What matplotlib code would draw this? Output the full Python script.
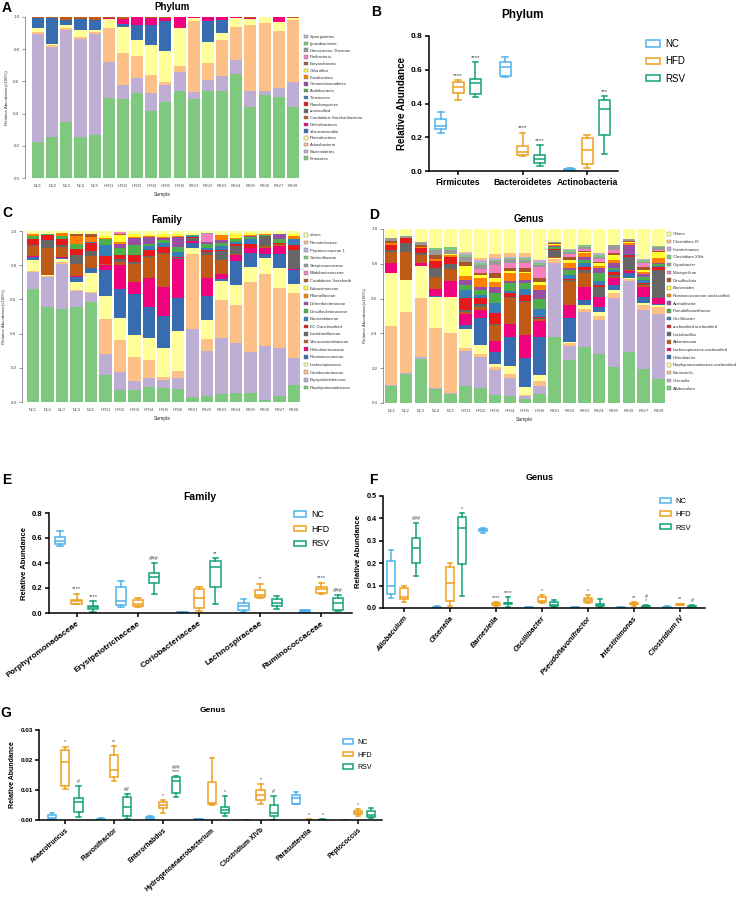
import matplotlib
matplotlib.use('Agg')
import matplotlib.pyplot as plt
from matplotlib.patches import Patch
import numpy as np

plt.rcParams['font.family'] = ['Liberation Sans', 'DejaVu Sans']

samples = ['NC1', 'NC2', 'NC3', 'NC4', 'NC5', 'HFD1', 'HFD2', 'HFD3', 'HFD4', 'HFD5', 'HFD6',
           'RSV1', 'RSV2', 'RSV3', 'RSV4', 'RSV5', 'RSV6', 'RSV7', 'RSV8']
absent = [0.0] * 19

# ---- A: phylum composition (bottom -> top)
phy_names = ['Firmicutes', 'Bacteroidetes', 'Actinobacteria', 'Proteobacteria', 'Verrucomicrobia',
             'Deferribacteres', 'Candidatus Saccharibacteria', 'unclassified', 'Planctomycetes',
             'Tenericutes', 'Acidobacteria', 'Gemmatimonadetes', 'Fusobacteria', 'Chloroflexi',
             'Euryarchaeota', 'Poribacteria', 'Deinococcus-Thermus', 'Ignavibacteriae', 'Synergistetes']
phy_firm = [0.226, 0.253, 0.348, 0.253, 0.265, 0.498, 0.492, 0.527, 0.416, 0.475, 0.541,
            0.490, 0.543, 0.539, 0.646, 0.442, 0.516, 0.506, 0.442]
phy_bact = [0.671, 0.562, 0.570, 0.613, 0.632, 0.224, 0.086, 0.094, 0.115, 0.103, 0.115,
            0.045, 0.066, 0.095, 0.084, 0.101, 0.027, 0.056, 0.153]
phy_actino = [0.008, 0.008, 0.012, 0.011, 0.008, 0.210, 0.200, 0.136, 0.109, 0.019, 0.039,
              0.440, 0.103, 0.222, 0.208, 0.410, 0.420, 0.350, 0.384]
phy_proteo = [0.029, 0.012, 0.021, 0.041, 0.013, 0.058, 0.160, 0.103, 0.189, 0.189, 0.237,
              0.021, 0.130, 0.047, 0.056, 0.033, 0.037, 0.057, 0.015]
phy_verruco = [0.060, 0.161, 0.033, 0.068, 0.066, 0.0, 0.021, 0.089, 0.124, 0.187, 0.0,
               0.0, 0.131, 0.081, 0.0, 0.0, 0.0, 0.0, 0.0]
phy_deferri = [0.0, 0.0, 0.0, 0.0, 0.0, 0.004, 0.031, 0.051, 0.043, 0.021, 0.068,
               0.004, 0.027, 0.016, 0.006, 0.006, 0.0, 0.031, 0.0]
phy_saccha = [0.006, 0.004, 0.016, 0.014, 0.016, 0.006, 0.010, 0.0, 0.004, 0.006, 0.0,
              0.0, 0.0, 0.0, 0.0, 0.008, 0.0, 0.0, 0.006]

# ---- C: family composition
fam_names = ['Porphyromonadaceae', 'Erysipelotrichaceae', 'Coriobacteriaceae', 'Lachnospiraceae',
             'Ruminococcaceae', 'Helicobacteraceae', 'Verrucomicrobiaceae', 'Lactobacillaceae',
             'F.C.Gunclassified', 'Bacteroidaceae', 'Desulfovibrionaceae', 'Deferribacteraceae',
             'Rikenellaceae', 'Eubacteriaceae', 'Candidatus Saccharib', 'Bifidobacteriaceae',
             'Streptococcaceae', 'Sutterellaceae', 'Peptococcaceae 1', 'Prevotellaceae', 'others']
fam_porph = [0.658, 0.556, 0.543, 0.556, 0.586, 0.158, 0.070, 0.070, 0.089, 0.080, 0.074,
             0.027, 0.035, 0.047, 0.054, 0.054, 0.012, 0.037, 0.099]
fam_erys = [0.101, 0.176, 0.262, 0.092, 0.052, 0.120, 0.103, 0.055, 0.049, 0.048, 0.064,
            0.399, 0.263, 0.330, 0.292, 0.236, 0.315, 0.276, 0.156]
fam_corio = [0.008, 0.005, 0.014, 0.006, 0.006, 0.206, 0.189, 0.136, 0.107, 0.020, 0.043,
             0.442, 0.068, 0.218, 0.220, 0.412, 0.424, 0.354, 0.385]
fam_lach = [0.066, 0.004, 0.019, 0.048, 0.113, 0.137, 0.132, 0.128, 0.127, 0.165, 0.233,
            0.035, 0.113, 0.113, 0.121, 0.088, 0.091, 0.117, 0.049]
fam_rum = [0.015, 0.004, 0.004, 0.030, 0.027, 0.153, 0.169, 0.245, 0.184, 0.189, 0.197,
           0.027, 0.142, 0.014, 0.136, 0.082, 0.026, 0.084, 0.081]
fam_heli = [0.006, 0.0, 0.006, 0.007, 0.0, 0.030, 0.137, 0.068, 0.170, 0.171, 0.227,
            0.010, 0.105, 0.029, 0.035, 0.029, 0.033, 0.043, 0.010]
fam_verr = [0.058, 0.156, 0.059, 0.070, 0.070, 0.005, 0.019, 0.107, 0.122, 0.195, 0.0,
            0.0, 0.136, 0.078, 0.010, 0.0, 0.010, 0.015, 0.0]
fam_lacto = [0.008, 0.048, 0.010, 0.049, 0.029, 0.0, 0.016, 0.010, 0.006, 0.006, 0.004,
             0.019, 0.015, 0.052, 0.044, 0.0, 0.058, 0.0, 0.111]
fam_fcg = [0.031, 0.026, 0.038, 0.035, 0.047, 0.045, 0.023, 0.043, 0.033, 0.033, 0.006,
           0.006, 0.010, 0.010, 0.014, 0.025, 0.0, 0.006, 0.029]
fam_bactd = [0.0, 0.0, 0.0, 0.0, 0.006, 0.066, 0.0, 0.0, 0.025, 0.023, 0.029,
             0.006, 0.014, 0.019, 0.010, 0.029, 0.0, 0.0, 0.031]
fam_desulf = [0.020, 0.009, 0.014, 0.033, 0.0, 0.031, 0.045, 0.054, 0.010, 0.016, 0.030,
              0.008, 0.025, 0.020, 0.015, 0.012, 0.006, 0.023, 0.0]
fam_defer = [0.0, 0.0, 0.004, 0.0, 0.0, 0.0, 0.023, 0.045, 0.043, 0.013, 0.058,
             0.0, 0.010, 0.016, 0.0, 0.004, 0.0, 0.029, 0.0]
fam_rik = [0.013, 0.0, 0.015, 0.045, 0.029, 0.010, 0.010, 0.006, 0.006, 0.006, 0.006,
           0.0, 0.0, 0.029, 0.010, 0.008, 0.008, 0.0, 0.019]
fam_eub = [0.0, 0.0, 0.0, 0.0, 0.0, 0.010, 0.039, 0.014, 0.006, 0.016, 0.010,
           0.0, 0.0, 0.0, 0.020, 0.008, 0.0, 0.0, 0.010]
fam_cans = [0.0, 0.0, 0.0, 0.010, 0.019, 0.0, 0.006, 0.0, 0.0, 0.0, 0.0,
            0.0, 0.0, 0.0, 0.0, 0.0, 0.0, 0.0, 0.0]
fam_bifido = [0.0, 0.0, 0.0, 0.0, 0.0, 0.0, 0.012, 0.0, 0.0, 0.0, 0.0,
              0.0, 0.049, 0.0, 0.0, 0.0, 0.0, 0.0, 0.0]
fam_strep = [0.0, 0.0, 0.0, 0.0, 0.0, 0.0, 0.0, 0.0, 0.0, 0.0, 0.0,
             0.0, 0.004, 0.0, 0.0, 0.0, 0.0, 0.0, 0.0]
fam_others = [0.016, 0.016, 0.012, 0.019, 0.016, 0.029, 0.007, 0.019, 0.023, 0.019, 0.019,
              0.021, 0.011, 0.025, 0.019, 0.013, 0.017, 0.016, 0.020]

# ---- D: genus composition
gen_names = ['Allobaculum', 'Olsenella', 'Barnesiella', 'Porphyromonadaceae.unclassified',
             'Helicobacter', 'Lachnospiraceae.unclassified', 'Akkermansia', 'Lactobacillus',
             'unclassified.unclassified', 'Oscillibacter', 'Pseudoflavonifractor', 'Acetatifactor',
             'Ruminococcaceae.unclassified', 'Bacteroides', 'Desulfovibrio', 'Mucispirillum',
             'Coprobacter', 'Clostridium XlVa', 'Intestinimonas', 'Clostridium IV', 'Others']
gen_allo = [0.096, 0.169, 0.253, 0.081, 0.054, 0.096, 0.086, 0.048, 0.042, 0.025, 0.054,
            0.380, 0.250, 0.322, 0.280, 0.207, 0.294, 0.198, 0.140]
gen_olsen = [0.006, 0.006, 0.012, 0.003, 0.004, 0.200, 0.179, 0.140, 0.104, 0.015, 0.042,
             0.422, 0.076, 0.202, 0.196, 0.394, 0.408, 0.339, 0.371]
gen_barn = [0.341, 0.349, 0.336, 0.348, 0.345, 0.020, 0.015, 0.019, 0.019, 0.008, 0.031,
            0.023, 0.016, 0.019, 0.023, 0.029, 0.010, 0.025, 0.042]
gen_porphu = [0.306, 0.182, 0.186, 0.175, 0.204, 0.107, 0.052, 0.019, 0.046, 0.044, 0.032,
              0.006, 0.009, 0.019, 0.025, 0.019, 0.008, 0.014, 0.013]
gen_helico = [0.0, 0.0, 0.0, 0.007, 0.0, 0.027, 0.154, 0.068, 0.169, 0.167, 0.221,
              0.004, 0.135, 0.029, 0.029, 0.029, 0.025, 0.031, 0.005]
gen_lachu = [0.057, 0.0, 0.019, 0.039, 0.095, 0.063, 0.048, 0.063, 0.073, 0.131, 0.090,
             0.0, 0.080, 0.073, 0.054, 0.038, 0.013, 0.057, 0.030]
gen_akk = [0.063, 0.163, 0.044, 0.073, 0.066, 0.010, 0.019, 0.090, 0.148, 0.192, 0.015,
           0.004, 0.135, 0.081, 0.0, 0.006, 0.006, 0.014, 0.0]
gen_lacto = [0.010, 0.048, 0.010, 0.051, 0.029, 0.010, 0.015, 0.005, 0.006, 0.006, 0.004,
             0.040, 0.006, 0.019, 0.061, 0.013, 0.077, 0.004, 0.163]
gen_uu = [0.029, 0.029, 0.029, 0.039, 0.044, 0.073, 0.033, 0.066, 0.023, 0.032, 0.006,
          0.004, 0.008, 0.015, 0.010, 0.019, 0.010, 0.006, 0.019]
gen_oscill = [0.0, 0.0, 0.0, 0.0, 0.0, 0.042, 0.019, 0.058, 0.013, 0.038, 0.048,
              0.004, 0.020, 0.023, 0.024, 0.010, 0.004, 0.018, 0.005]
gen_pseudo = [0.0, 0.0, 0.0, 0.0, 0.0, 0.030, 0.029, 0.059, 0.048, 0.029, 0.054,
              0.008, 0.029, 0.019, 0.043, 0.013, 0.004, 0.020, 0.010]
gen_acet = [0.0, 0.0, 0.0, 0.0, 0.0, 0.030, 0.015, 0.029, 0.011, 0.019, 0.052,
            0.008, 0.010, 0.019, 0.029, 0.025, 0.048, 0.015, 0.008]
gen_rumu = [0.013, 0.0, 0.010, 0.010, 0.010, 0.020, 0.052, 0.033, 0.043, 0.039, 0.029,
            0.005, 0.028, 0.020, 0.013, 0.019, 0.012, 0.013, 0.025]
gen_bacteroides = [0.0, 0.0, 0.0, 0.0, 0.008, 0.060, 0.019, 0.019, 0.013, 0.010, 0.019,
                   0.006, 0.019, 0.005, 0.016, 0.029, 0.008, 0.010, 0.038]
gen_desulfo = [0.012, 0.0, 0.010, 0.024, 0.0, 0.020, 0.014, 0.029, 0.016, 0.019, 0.019,
               0.006, 0.019, 0.008, 0.010, 0.010, 0.006, 0.015, 0.004]
gen_mucis = [0.0, 0.0, 0.0, 0.0, 0.0, 0.0, 0.021, 0.048, 0.032, 0.028, 0.063,
             0.0, 0.019, 0.010, 0.013, 0.019, 0.0, 0.023, 0.004]
gen_copro = [0.013, 0.016, 0.015, 0.029, 0.021, 0.030, 0.023, 0.023, 0.019, 0.019, 0.012,
             0.008, 0.010, 0.015, 0.015, 0.029, 0.008, 0.010, 0.021]
gen_xiva = [0.004, 0.0, 0.0, 0.009, 0.019, 0.012, 0.009, 0.008, 0.008, 0.010, 0.011,
            0.0, 0.008, 0.010, 0.010, 0.0, 0.0, 0.008, 0.004]
gen_intest = [0.0, 0.0, 0.0, 0.0, 0.0, 0.010, 0.019, 0.011, 0.008, 0.009, 0.019,
              0.0, 0.008, 0.0, 0.009, 0.0, 0.0, 0.010, 0.0]
gen_closiv = [0.0, 0.0, 0.0, 0.0, 0.0, 0.010, 0.014, 0.021, 0.019, 0.020, 0.0,
              0.0, 0.0, 0.0, 0.0, 0.0, 0.0, 0.0, 0.0]
gen_others = [0.050, 0.038, 0.076, 0.112, 0.101, 0.140, 0.165, 0.144, 0.140, 0.140, 0.179,
              0.071, 0.115, 0.092, 0.140, 0.092, 0.059, 0.170, 0.098]

# ---- box plots: (min, q1, median, q3, max) per category
groups = ['NC', 'HFD', 'RSV']
b_cats = ['Firmicutes', 'Bacteroidetes', 'Actinobacteria']
b_nc = [(0.228, 0.246, 0.265, 0.311, 0.350), (0.558, 0.564, 0.614, 0.648, 0.673), (0.004, 0.006, 0.010, 0.014, 0.018)]
b_hfd = [(0.420, 0.463, 0.495, 0.529, 0.539), (0.087, 0.097, 0.113, 0.147, 0.228), (0.020, 0.040, 0.127, 0.198, 0.212)]
b_rsv = [(0.440, 0.459, 0.519, 0.543, 0.648), (0.028, 0.050, 0.073, 0.097, 0.156), (0.103, 0.216, 0.370, 0.420, 0.446)]
b_sig_hfd = ['****', '****', '']
b_sig_rsv = ['****', '****', '***']

e_cats = ['Porphyromonadaceae', 'Erysipelotrichaceae', 'Coriobacteriaceae', 'Lachnospiraceae', 'Ruminococcaceae']
e_nc = [(0.537, 0.553, 0.575, 0.612, 0.658), (0.048, 0.067, 0.097, 0.209, 0.258), (0.002, 0.004, 0.006, 0.009, 0.012),
        (0.008, 0.021, 0.054, 0.081, 0.115), (0.005, 0.010, 0.016, 0.022, 0.027)]
e_hfd = [(0.070, 0.075, 0.094, 0.107, 0.156), (0.048, 0.054, 0.075, 0.102, 0.121), (0.016, 0.040, 0.121, 0.191, 0.209),
         (0.123, 0.129, 0.142, 0.183, 0.236), (0.150, 0.161, 0.191, 0.209, 0.244)]
e_rsv = [(0.008, 0.035, 0.048, 0.056, 0.097), (0.156, 0.244, 0.285, 0.317, 0.397), (0.075, 0.212, 0.370, 0.416, 0.438),
         (0.035, 0.056, 0.081, 0.115, 0.134), (0.019, 0.027, 0.081, 0.121, 0.142)]
e_sig_hfd = ['****', '', '', '*', '****']
e_sig_rsv = ['****', '###', '**', '', '###']

f_cats = ['Allobaculum', 'Olsenella', 'Barnesiella', 'Oscillibacter', 'Pseudoflavonifractor', 'Intestinimonas', 'Clostridium IV']
f_nc = [(0.045, 0.064, 0.096, 0.211, 0.257), (0.001, 0.002, 0.003, 0.005, 0.007), (0.337, 0.343, 0.347, 0.353, 0.356),
        (0.001, 0.001, 0.002, 0.003, 0.004), (0.001, 0.001, 0.002, 0.003, 0.004), (0.001, 0.001, 0.002, 0.003, 0.004),
        (0.001, 0.002, 0.004, 0.006, 0.008)]
f_hfd = [(0.027, 0.042, 0.047, 0.089, 0.096), (0.007, 0.033, 0.111, 0.181, 0.200), (0.010, 0.015, 0.019, 0.022, 0.028),
         (0.022, 0.025, 0.033, 0.049, 0.056), (0.022, 0.027, 0.034, 0.045, 0.056), (0.007, 0.016, 0.019, 0.021, 0.025),
         (0.012, 0.014, 0.016, 0.018, 0.020)]
f_rsv = [(0.141, 0.200, 0.266, 0.312, 0.381), (0.055, 0.196, 0.356, 0.405, 0.423), (0.003, 0.018, 0.021, 0.022, 0.047),
         (0.003, 0.007, 0.015, 0.028, 0.037), (0.003, 0.010, 0.015, 0.018, 0.042), (0.002, 0.005, 0.008, 0.010, 0.012),
         (0.003, 0.006, 0.009, 0.011, 0.013)]
f_sig_hfd = ['', '', '****', '*', '*', '**', '**']
f_sig_rsv = ['###', '*', '****', '', '', '#\n*', '#']

g_cats = ['Anaerotruncus', 'Flavonifractor', 'Enterorhabdus', 'Hydrogenoanaerobacterium', 'Clostridium XIVb',
          'Parasutterella', 'Peptococcus']
g_nc = [(0.0000, 0.0003, 0.0008, 0.0017, 0.0024), (0.0000, 0.0001, 0.0003, 0.0005, 0.0008),
        (0.0004, 0.0005, 0.0008, 0.0011, 0.0012), (0.0000, 0.0001, 0.0002, 0.0002, 0.0003),
        (0.0000, 0.0000, 0.0001, 0.0001, 0.0001), (0.0052, 0.0054, 0.0072, 0.0085, 0.0093),
        (0.0000, 0.0000, 0.0001, 0.0001, 0.0001)]
g_hfd = [(0.0104, 0.0112, 0.0195, 0.0232, 0.0245), (0.0129, 0.0143, 0.0167, 0.0217, 0.0247),
         (0.0022, 0.0039, 0.0050, 0.0061, 0.0066), (0.0049, 0.0052, 0.0057, 0.0127, 0.0206),
         (0.0054, 0.0068, 0.0083, 0.0101, 0.0121), (0.0000, 0.0000, 0.0001, 0.0001, 0.0002),
         (0.0015, 0.0021, 0.0024, 0.0030, 0.0037)]
g_rsv = [(0.0011, 0.0026, 0.0061, 0.0072, 0.0112), (0.0002, 0.0013, 0.0044, 0.0076, 0.0087),
         (0.0076, 0.0090, 0.0129, 0.0142, 0.0146), (0.0015, 0.0022, 0.0035, 0.0043, 0.0079),
         (0.0000, 0.0013, 0.0024, 0.0050, 0.0079), (0.0000, 0.0000, 0.0001, 0.0001, 0.0002),
         (0.0006, 0.0011, 0.0017, 0.0030, 0.0041)]
g_sig_hfd = ['*', '**', '*', '', '*', '*', '*']
g_sig_rsv = ['#', '##', '###\n****', '*', '#', '*', '']

palette = ['#7FC97F', '#BEAED4', '#FDC086', '#FFFF99', '#386CB0', '#F0027F', '#BF5B17', '#666666',
           '#E41A1C', '#377EB8', '#4DAF4A', '#984EA3', '#FF7F00', '#FFFF33', '#A65628', '#F781BF',
           '#999999', '#7FC97F', '#BEAED4', '#FDC086', '#FFFF99']
group_colors = ['#4EB3E9', '#EE9F1C', '#14A27A']

W, H = 740, 898
fig = plt.figure(figsize=(7.4, 8.98), dpi=100)


def px_axes(x0, y0, x1, y1):
    return fig.add_axes([x0 / W, 1 - y1 / H, (x1 - x0) / W, (y1 - y0) / H])


def ftext(x, y, s, **kw):
    fig.text(x / W, 1 - y / H, s, **kw)


def stacked(ax, layers, names, xlim, leg_xy, leg_fs, leg_sp):
    x = np.arange(len(samples))
    bottom = np.zeros(len(samples))
    handles = []
    for vals, col in zip(layers, palette):
        ax.bar(x, vals, 0.85, bottom=bottom, color=col, edgecolor='none')
        bottom += np.array(vals)
        handles.append(Patch(facecolor=col, edgecolor='#777777', linewidth=0.3))
    ax.set_xlim(*xlim)
    ax.set_ylim(0, 1.0)
    for s in ['top', 'right', 'bottom']:
        ax.spines[s].set_visible(False)
    ax.spines['left'].set_linewidth(0.4)
    ax.spines['left'].set_color('#444444')
    ax.set_yticks([0, 0.2, 0.4, 0.6, 0.8, 1.0])
    ax.set_yticklabels(['0.0', '0.2', '0.4', '0.6', '0.8', '1.0'])
    ax.tick_params(axis='y', labelsize=3.2, length=2, width=0.4, pad=2, colors='#444444')
    ax.set_xticks(x)
    ax.set_xticklabels(samples)
    ax.tick_params(axis='x', labelsize=2.8, length=0, pad=4, colors='#444444')
    ax.set_xlabel('Sample', fontsize=3.6, labelpad=3, color='#333333')
    ax.set_ylabel('Relative Abundance(x100%)', fontsize=3.2, labelpad=3, color='#333333')
    fig.legend(handles[::-1], names[::-1], loc='upper left',
               bbox_to_anchor=(leg_xy[0] / W, 1 - leg_xy[1] / H), frameon=False,
               fontsize=leg_fs, handlelength=0.9, handleheight=0.9, handletextpad=0.5,
               labelspacing=leg_sp, borderpad=0, borderaxespad=0, labelcolor='#333333')


def box_panel(ax, cats, data, sigs, ylim, yticks, ylabels, xlim, xfs, rot, ylab_fs, tick_fs,
              sig_fs, italic=False):
    offs = [-0.27, 0.0, 0.27]
    for gi, (stats5, col) in enumerate(zip(data, group_colors)):
        st = [dict(whislo=s[0], q1=s[1], med=s[2], q3=s[3], whishi=s[4], fliers=[]) for s in stats5]
        pos = np.arange(len(cats)) + offs[gi]
        ax.bxp(st, positions=pos, widths=0.17, showfliers=False, patch_artist=True, capwidths=0.09,
               manage_ticks=False,
               boxprops=dict(facecolor='white', edgecolor=col, linewidth=1.1),
               whiskerprops=dict(color=col, linewidth=1.1),
               capprops=dict(color=col, linewidth=1.1),
               medianprops=dict(color=col, linewidth=1.1))
    for gi, sig in ((1, sigs[0]), (2, sigs[1])):
        for ci, s in enumerate(sig):
            if s:
                ax.annotate(s, (ci + offs[gi], data[gi][ci][4]), xytext=(0, 1.5),
                            textcoords='offset points', ha='center', va='bottom',
                            fontsize=sig_fs, color='#444444', linespacing=0.85)
    ax.set_xlim(*xlim)
    ax.set_ylim(*ylim)
    ax.set_yticks(yticks)
    ax.set_yticklabels(ylabels, fontweight='bold')
    ax.set_xticks(np.arange(len(cats)))
    if rot:
        ax.set_xticklabels(cats, rotation=rot, ha='right', rotation_mode='anchor', fontweight='bold',
                           fontstyle='italic' if italic else 'normal')
    else:
        ax.set_xticklabels(cats, fontweight='bold')
    ax.tick_params(axis='x', labelsize=xfs, length=3, width=1.1, pad=2)
    ax.tick_params(axis='y', labelsize=tick_fs, length=3, width=1.1, pad=1.5)
    for s in ['top', 'right']:
        ax.spines[s].set_visible(False)
    for s in ['left', 'bottom']:
        ax.spines[s].set_linewidth(1.1)
    ax.set_ylabel('Relative Abundance', fontsize=ylab_fs, fontweight='bold', labelpad=3)


def box_legend(xy, fs, sp, hl):
    handles = [Patch(facecolor='white', edgecolor=c, linewidth=1.1) for c in group_colors]
    fig.legend(handles, groups, loc='upper left', bbox_to_anchor=(xy[0] / W, 1 - xy[1] / H),
               frameon=False, fontsize=fs, handlelength=hl, handleheight=0.6, handletextpad=0.6,
               labelspacing=sp, borderpad=0, borderaxespad=0)


# A
axA = px_axes(25, 17, 300, 178)
stacked(axA, [phy_firm, phy_bact, phy_actino, phy_proteo, phy_verruco, phy_deferri, phy_saccha]
        + [absent] * 12, phy_names, (-0.92, 18.5), (304, 35), 3.0, 0.62)
ftext(172, 7, 'Phylum', fontsize=7, fontweight='bold', ha='center', va='center')

# C
axC = px_axes(22, 231, 302, 402)
stacked(axC, [fam_porph, fam_erys, fam_corio, fam_lach, fam_rum, fam_heli, fam_verr, fam_lacto, fam_fcg,
              fam_bactd, fam_desulf, fam_defer, fam_rik, fam_eub, fam_cans, fam_bifido, fam_strep,
              absent, absent, absent, fam_others],
        fam_names, (-0.75, 18.55), (304, 233), 3.1, 0.78)
ftext(167, 220, 'Family', fontsize=7, fontweight='bold', ha='center', va='center')

# D
axD = px_axes(383, 229, 666, 403)
stacked(axD, [gen_allo, gen_olsen, gen_barn, gen_porphu, gen_helico, gen_lachu, gen_akk, gen_lacto, gen_uu,
              gen_oscill, gen_pseudo, gen_acet, gen_rumu, gen_bacteroides, gen_desulfo, gen_mucis,
              gen_copro, gen_xiva, gen_intest, gen_closiv, gen_others],
        gen_names, (-0.55, 18.5), (667, 232), 3.1, 0.8)
ftext(529, 219, 'Genus', fontsize=7, fontweight='bold', ha='center', va='center')

# B
axB = px_axes(429, 36, 618, 171)
box_panel(axB, b_cats, [b_nc, b_hfd, b_rsv], [b_sig_hfd, b_sig_rsv], (0, 0.8),
          [0, 0.2, 0.4, 0.6, 0.8], ['0.0', '0.2', '0.4', '0.6', '0.8'], (-0.45, 2.48),
          6.3, 0, 7, 6, 4.5)
box_legend((646, 39), 7, 0.75, 1.4)
ftext(523, 15, 'Phylum', fontsize=8.5, fontweight='bold', ha='center', va='center')

# E
axE = px_axes(49, 513, 352, 613)
box_panel(axE, e_cats, [e_nc, e_hfd, e_rsv], [e_sig_hfd, e_sig_rsv], (0, 0.8),
          [0, 0.2, 0.4, 0.6, 0.8], ['0.0', '0.2', '0.4', '0.6', '0.8'], (-0.45, 4.5),
          6.0, 37, 5.5, 5.5, 4.2)
box_legend((294, 510), 6.3, 0.65, 1.4)
ftext(200, 497, 'Family', fontsize=7.5, fontweight='bold', ha='center', va='center')

# F
axF = px_axes(383, 496, 705, 608)
box_panel(axF, f_cats, [f_nc, f_hfd, f_rsv], [f_sig_hfd, f_sig_rsv], (0, 0.5),
          [0, 0.1, 0.2, 0.3, 0.4, 0.5], ['0.0', '0.1', '0.2', '0.3', '0.4', '0.5'], (-0.45, 6.55),
          5.3, 50, 5.5, 5.2, 4.0, italic=True)
box_legend((660, 498), 5.5, 0.8, 1.4)
ftext(540, 477, 'Genus', fontsize=6.5, fontweight='bold', ha='center', va='center')

# G
axG = px_axes(39, 730, 382, 820)
box_panel(axG, g_cats, [g_nc, g_hfd, g_rsv], [g_sig_hfd, g_sig_rsv], (0, 0.03),
          [0, 0.01, 0.02, 0.03], ['0.00', '0.01', '0.02', '0.03'], (-0.54, 6.49),
          4.9, 42, 5.0, 4.6, 3.8)
box_legend((343, 739), 5.0, 0.8, 1.4)
ftext(213, 711, 'Genus', fontsize=6, fontweight='bold', ha='center', va='center')

# panel letters
for lab, x, y in [('A', 7, 8), ('B', 376, 12), ('C', 7, 213), ('D', 374, 215),
                  ('E', 7, 480), ('F', 373, 480), ('G', 6, 713)]:
    ftext(x, y, lab, fontsize=10, fontweight='bold', ha='center', va='center')

fig.savefig('out.png', dpi=100)
